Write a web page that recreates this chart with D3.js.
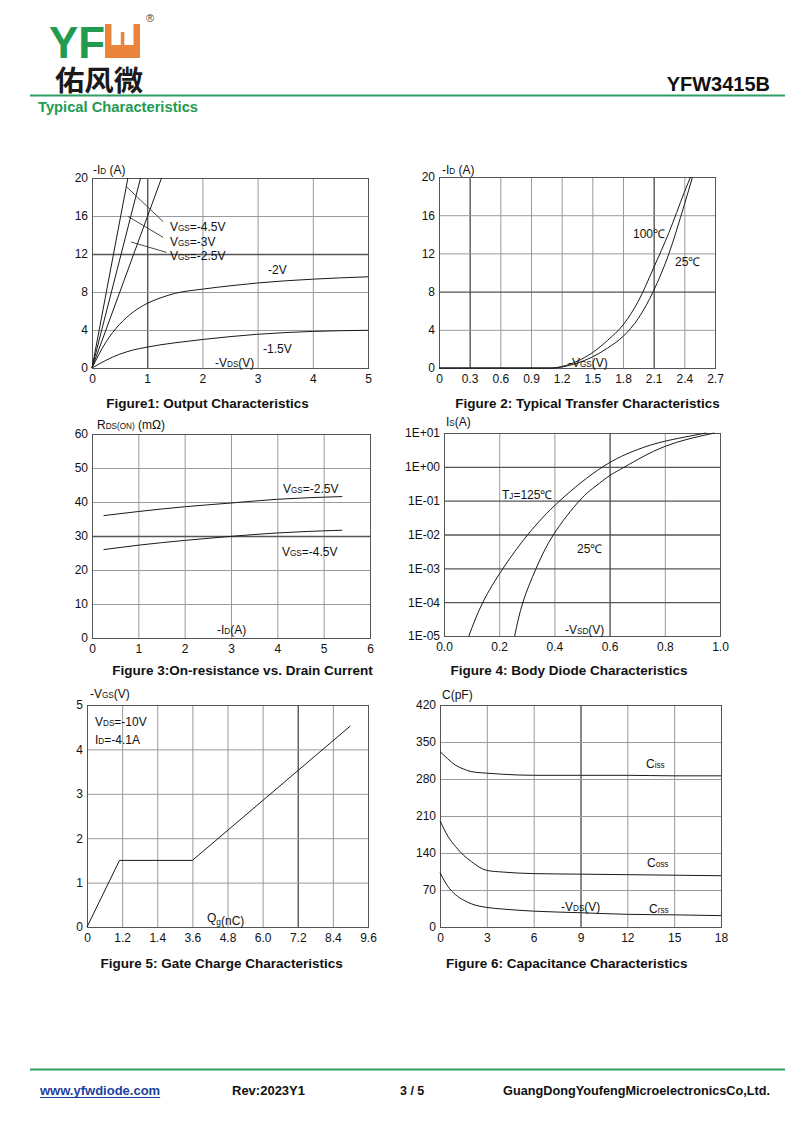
<!DOCTYPE html>
<html><head><meta charset="utf-8">
<script src="https://cdn.jsdelivr.net/npm/d3@7"></script>
<style>
body{margin:0;background:#fff}
svg{display:block;font-family:"Liberation Sans",Arial,Helvetica,sans-serif}
</style></head><body>
<svg id="c" width="800" height="1131"></svg>
<script>
// ---------------- DATA ----------------
// Figure 1: Output characteristics
const fig1_xTicks = [0, 1, 2, 3, 4, 5];
const fig1_yTicks = [0, 4, 8, 12, 16, 20];
const fig1_vds = [0, 0.25, 0.5, 0.75, 1, 1.25, 1.5, 2, 2.5, 3, 4, 5];
const fig1_id_vgs2 = [0, 2.7, 4.6, 5.9, 6.8, 7.4, 7.85, 8.3, 8.65, 8.95, 9.35, 9.6];
const fig1_id_vgs15 = [0, 0.8, 1.45, 1.9, 2.2, 2.45, 2.65, 3.0, 3.3, 3.55, 3.85, 3.97];
const fig1_lin_id = [0, 20];
const fig1_lin_vds45 = [0, 0.65];
const fig1_lin_vds3 = [0, 0.88];
const fig1_lin_vds25 = [0, 1.26];

// Figure 2: Transfer characteristics
const fig2_xTicks = [0, 0.3, 0.6, 0.9, 1.2, 1.5, 1.8, 2.1, 2.4, 2.7];
const fig2_xLabels = ["0", "0.3", "0.6", "0.9", "1.2", "1.5", "1.8", "2.1", "2.4", "2.7"];
const fig2_yTicks = [0, 4, 8, 12, 16, 20];
const fig2_vgs_100 = [0, 1.1, 1.2, 1.35, 1.5, 1.65, 1.8, 1.95, 2.1, 2.25, 2.4, 2.46];
const fig2_id_100 = [0, 0, 0.15, 0.7, 1.6, 2.9, 4.5, 7.0, 10.5, 14.2, 18.4, 20];
const fig2_vgs_25 = [0, 1.12, 1.2, 1.35, 1.5, 1.65, 1.8, 1.95, 2.1, 2.25, 2.4, 2.48];
const fig2_id_25 = [0, 0, 0.1, 0.5, 1.15, 2.1, 3.3, 5.2, 8.1, 12.0, 17.1, 20];

// Figure 3: On-resistance vs drain current
const fig3_xTicks = [0, 1, 2, 3, 4, 5, 6];
const fig3_yTicks = [0, 10, 20, 30, 40, 50, 60];
const fig3_id = [0.25, 1, 2, 3, 4, 5.4];
const fig3_r_vgs25 = [36, 37.2, 38.6, 39.7, 40.8, 41.6];
const fig3_r_vgs45 = [26, 27.3, 28.7, 29.9, 30.9, 31.7];

// Figure 4: Body diode characteristics
const fig4_xTicks = [0, 0.2, 0.4, 0.6, 0.8, 1.0];
const fig4_yTicks = [1e-5, 1e-4, 1e-3, 1e-2, 1e-1, 1, 10];
const fig4_yLabels = ["1E-05", "1E-04", "1E-03", "1E-02", "1E-01", "1E+00", "1E+01"];
const fig4_vsd_125 = [0.09, 0.141, 0.214, 0.304, 0.42, 0.575, 0.7, 0.8, 0.95];
const fig4_is_125 = [1e-5, 1e-4, 1e-3, 1e-2, 1e-1, 1, 3.2, 5.7, 10];
const fig4_vsd_25 = [0.256, 0.286, 0.334, 0.397, 0.491, 0.55, 0.6, 0.66, 0.8, 0.98];
const fig4_is_25 = [1e-5, 1e-4, 1e-3, 1e-2, 1e-1, 0.27, 0.55, 1.05, 4, 10];

// Figure 5: Gate charge
const fig5_xTicks = [0, 1.2, 2.4, 3.6, 4.8, 6.0, 7.2, 8.4, 9.6];
const fig5_xLabels = ["0", "1.2", "1.4", "3.6", "4.8", "6.0", "7.2", "8.4", "9.6"];
const fig5_yTicks = [0, 1, 2, 3, 4, 5];
const fig5_qg = [0, 1.11, 3.6, 9.0];
const fig5_vgs = [0, 1.5, 1.5, 4.53];

// Figure 6: Capacitance
const fig6_xTicks = [0, 3, 6, 9, 12, 15, 18];
const fig6_yTicks = [0, 70, 140, 210, 280, 350, 420];
const fig6_vds = [0, 0.5, 1, 1.5, 2, 3, 4, 6, 9, 12, 15, 18];
const fig6_ciss = [332, 318, 306, 299, 294, 291, 289, 287, 287, 287, 286, 286];
const fig6_coss = [201, 172, 152, 136, 124, 107, 104, 101, 100, 99, 98, 97];
const fig6_crss = [103, 77, 61, 51, 44, 37, 34, 30, 27, 24, 23, 21.5];

// ---------------- DRAWING ----------------
const svg = d3.select("#c");
const GREEN = "#229b50", LINE_GREEN = "#2f9f62", INK = "#111";

function zip(a, b) { return a.map((v, i) => [v, b[i]]); }

// text with _{sub} (small, same baseline) and _[sub] (small, lowered)
function rich(g, x, y, str, size, opts = {}) {
  const t = g.append("text").attr("x", x).attr("y", y)
    .attr("font-size", size).style("fill", opts.fill || INK)
    .attr("text-anchor", opts.anchor || "start");
  if (opts.bold) t.attr("font-weight", "bold");
  const re = /_\{([^}]*)\}|_\[([^\]]*)\]|([^_]+)/g;
  let m;
  while ((m = re.exec(str)) !== null) {
    if (m[1] !== undefined) t.append("tspan").attr("font-size", size * 0.68).text(m[1]);
    else if (m[2] !== undefined) {
      t.append("tspan").attr("font-size", size * 0.7).attr("dy", size * 0.25).text(m[2]);
      t.append("tspan").attr("dy", -size * 0.25).text("");
    } else t.append("tspan").text(m[3]);
  }
  return t;
}

function panel(o) {
  const g = svg.append("g");
  const w = o.x1 - o.x0, h = o.y1 - o.y0;
  const x = o.x.range([o.x0, o.x1]);
  const y = o.y.range([o.y1, o.y0]);
  const ax = g.append("g").attr("transform", `translate(0,${o.y1})`)
    .call(d3.axisBottom(x).tickValues(o.xt).tickFormat(o.xf).tickSize(-h).tickPadding(6.5));
  const ay = g.append("g").attr("transform", `translate(${o.x0},0)`)
    .call(d3.axisLeft(y).tickValues(o.yt).tickFormat(o.yf).tickSize(-w).tickPadding(o.ypad || 4));
  [ax, ay].forEach(a => {
    a.attr("font-family", null).attr("font-size", 12);
    a.select(".domain").remove();
    a.selectAll(".tick text").style("fill", INK);
  });
  ax.selectAll(".tick line").attr("stroke", d => (o.darkX || []).includes(d) ? "#555" : "#9a9a9a")
    .attr("stroke-width", d => (o.darkX || []).includes(d) ? 1.4 : 1);
  ay.selectAll(".tick line").attr("stroke", d => (o.darkY || []).includes(d) ? "#555" : "#9a9a9a")
    .attr("stroke-width", d => (o.darkY || []).includes(d) ? 1.4 : 1);
  g.append("rect").attr("x", o.x0 + 0.5).attr("y", o.y0 + 0.5).attr("width", w).attr("height", h)
    .attr("fill", "none").attr("stroke", "#555").attr("stroke-width", 1);
  return { g, x, y };
}

function curve(p, xs, ys, kind) {
  const c = kind === "lin" ? d3.curveLinear : (kind === "nat" ? d3.curveNatural : d3.curveMonotoneX);
  const line = d3.line().x(d => p.x(d[0])).y(d => p.y(d[1])).curve(c);
  p.g.append("path").datum(zip(xs, ys)).attr("d", line)
    .attr("fill", "none").attr("stroke", "#1a1a1a").attr("stroke-width", 1);
}

function title(x, y, str) {
  svg.append("text").attr("x", x).attr("y", y).attr("text-anchor", "middle")
    .attr("font-size", 13.5).attr("font-weight", "bold").style("fill", INK).text(str);
}

// ---- Header ----
svg.append("text").attr("x", 49).attr("y", 57.5).attr("font-size", 44).attr("font-weight", "bold")
  .style("fill", GREEN).attr("textLength", 56).attr("lengthAdjust", "spacingAndGlyphs").text("YF");
svg.append("rect").attr("x", 105).attr("y", 24).attr("width", 35).attr("height", 34).attr("fill", "#e9843a");
svg.append("rect").attr("x", 111.5).attr("y", 24).attr("width", 22).attr("height", 21).attr("fill", "#fff");
svg.append("rect").attr("x", 120.8).attr("y", 32).attr("width", 3.5).attr("height", 13).attr("fill", "#e9843a");
svg.append("text").attr("x", 146).attr("y", 22).attr("font-size", 11).style("fill", "#444").text("®");
svg.append("text").attr("x", 55).attr("y", 90.5).attr("font-size", 28).attr("font-weight", "bold")
  .attr("font-family", "'Noto Sans CJK SC', sans-serif").style("fill", "#1a1a1a")
  .attr("textLength", 88).attr("lengthAdjust", "spacingAndGlyphs").text("佑风微");
svg.append("text").attr("x", 770).attr("y", 91).attr("text-anchor", "end").attr("font-size", 20)
  .attr("font-weight", "bold").style("fill", INK).text("YFW3415B");
svg.append("line").attr("x1", 30).attr("x2", 785).attr("y1", 95.5).attr("y2", 95.5)
  .attr("stroke", LINE_GREEN).attr("stroke-width", 2);
svg.append("text").attr("x", 38).attr("y", 112).attr("font-size", 15).attr("font-weight", "bold")
  .style("fill", GREEN).attr("textLength", 160).attr("lengthAdjust", "spacingAndGlyphs")
  .text("Typical Characteristics");

// ---- Figure 1 ----
{
  const p = panel({ x0: 92, x1: 368, y0: 178, y1: 368,
    x: d3.scaleLinear().domain([0, 5]), y: d3.scaleLinear().domain([0, 20]),
    xt: fig1_xTicks, xf: d3.format("d"), yt: fig1_yTicks, yf: d3.format("d"),
    darkX: [1], darkY: [12] });
  curve(p, fig1_lin_vds45, fig1_lin_id, "lin");
  curve(p, fig1_lin_vds3, fig1_lin_id, "lin");
  curve(p, fig1_lin_vds25, fig1_lin_id, "lin");
  curve(p, fig1_vds, fig1_id_vgs2);
  curve(p, fig1_vds, fig1_id_vgs15);
  const lead = [[[0.62, 19.1], [1.29, 15.4]], [[0.65, 15.96], [1.29, 13.75]], [[0.71, 13.26], [1.35, 12.17]]];
  lead.forEach(l => p.g.append("line").attr("x1", p.x(l[0][0])).attr("y1", p.y(l[0][1]))
    .attr("x2", p.x(l[1][0])).attr("y2", p.y(l[1][1])).attr("stroke", "#333").attr("stroke-width", 0.9));
  rich(p.g, 170, 231, "V_{GS}=-4.5V", 12);
  rich(p.g, 170, 245.5, "V_{GS}=-3V", 12);
  rich(p.g, 170, 260, "V_{GS}=-2.5V", 12);
  rich(p.g, 268, 274, "-2V", 12);
  rich(p.g, 263, 352.5, "-1.5V", 12);
  rich(p.g, 215, 367, "-V_{DS}(V)", 12);
  rich(svg, 93, 174, "-I_{D} (A)", 12);
  title(207.5, 408, "Figure1: Output Characteristics");
}

// ---- Figure 2 ----
{
  const p = panel({ x0: 439, x1: 715, y0: 177, y1: 368,
    x: d3.scaleLinear().domain([0, 2.7]), y: d3.scaleLinear().domain([0, 20]),
    xt: fig2_xTicks, xf: (d, i) => fig2_xLabels[i], yt: fig2_yTicks, yf: d3.format("d"),
    darkX: [0.3, 2.1], darkY: [8] });
  curve(p, fig2_vgs_100, fig2_id_100);
  curve(p, fig2_vgs_25, fig2_id_25);
  rich(p.g, 633, 238, "100℃", 12);
  rich(p.g, 675, 266, "25℃", 12);
  rich(p.g, 568, 366.5, "-V_{GS}(V)", 12);
  rich(svg, 442, 174, "-I_{D} (A)", 12);
  title(587.5, 408, "Figure 2: Typical Transfer Characteristics");
}

// ---- Figure 3 ----
{
  const p = panel({ x0: 92, x1: 370, y0: 434, y1: 638,
    x: d3.scaleLinear().domain([0, 6]), y: d3.scaleLinear().domain([0, 60]),
    xt: fig3_xTicks, xf: d3.format("d"), yt: fig3_yTicks, yf: d3.format("d"),
    darkY: [30] });
  curve(p, fig3_id, fig3_r_vgs25);
  curve(p, fig3_id, fig3_r_vgs45);
  rich(p.g, 283, 492.5, "V_{GS}=-2.5V", 12);
  rich(p.g, 282, 556, "V_{GS}=-4.5V", 12);
  rich(p.g, 217, 634, "-I_{D}(A)", 12);
  rich(svg, 97, 429, "R_{DS(ON)} (mΩ)", 12);
  title(242.5, 675, "Figure 3:On-resistance vs. Drain Current");
}

// ---- Figure 4 ----
{
  const p = panel({ x0: 444, x1: 720, y0: 433, y1: 636,
    x: d3.scaleLinear().domain([0, 1]), y: d3.scaleLog().domain([1e-5, 10]),
    xt: fig4_xTicks, xf: d3.format(".1f"), yt: fig4_yTicks, yf: (d, i) => fig4_yLabels[i],
    darkX: [0.6], darkY: [1e-4, 1e-3, 1e-2, 1e-1, 1] });
  curve(p, fig4_vsd_125, fig4_is_125, "nat");
  curve(p, fig4_vsd_25, fig4_is_25, "nat");
  rich(p.g, 502, 499, "T_{J}=125℃", 12);
  rich(p.g, 577, 552.5, "25℃", 12);
  rich(p.g, 565, 634, "-V_{SD}(V)", 12);
  rich(svg, 446, 426, "I_{S}(A)", 12);
  title(569, 675, "Figure 4: Body Diode Characteristics");
}

// ---- Figure 5 ----
{
  const p = panel({ x0: 87, x1: 368, y0: 705, y1: 927,
    x: d3.scaleLinear().domain([0, 9.6]), y: d3.scaleLinear().domain([0, 5]),
    xt: fig5_xTicks, xf: (d, i) => fig5_xLabels[i], yt: fig5_yTicks, yf: d3.format("d"),
    darkX: [7.2] });
  curve(p, fig5_qg, fig5_vgs, "lin");
  rich(p.g, 95, 726, "V_{DS}=-10V", 12);
  rich(p.g, 95, 744, "I_{D}=-4.1A", 12);
  rich(p.g, 207, 922, "Q_[g](nC)", 12);
  rich(svg, 90, 697.5, "-V_{GS}(V)", 12);
  title(221.7, 967.5, "Figure 5: Gate Charge Characteristics");
}

// ---- Figure 6 ----
{
  const p = panel({ x0: 440, x1: 721, y0: 705, y1: 927,
    x: d3.scaleLinear().domain([0, 18]), y: d3.scaleLinear().domain([0, 420]),
    xt: fig6_xTicks, xf: d3.format("d"), yt: fig6_yTicks, yf: d3.format("d"),
    darkX: [9] });
  curve(p, fig6_vds, fig6_ciss);
  curve(p, fig6_vds, fig6_coss);
  curve(p, fig6_vds, fig6_crss);
  rich(p.g, 646, 767.5, "C_{iss}", 12);
  rich(p.g, 647, 867, "C_{oss}", 12);
  rich(p.g, 649, 912.5, "C_{rss}", 12);
  rich(p.g, 561, 911, "-V_{DS}(V)", 12);
  rich(svg, 442, 699, "C(pF)", 12);
  title(566.7, 967.5, "Figure 6: Capacitance Characteristics");
}

// ---- Footer ----
svg.append("line").attr("x1", 30).attr("x2", 785).attr("y1", 1069.5).attr("y2", 1069.5)
  .attr("stroke", LINE_GREEN).attr("stroke-width", 2);
const web = svg.append("text").attr("x", 40).attr("y", 1095).attr("font-size", 13).attr("font-weight", "bold")
  .style("fill", "#1d3f9e").text("www.yfwdiode.com");
const webW = web.node().getComputedTextLength();
svg.append("line").attr("x1", 40).attr("x2", 40 + webW).attr("y1", 1097.5).attr("y2", 1097.5)
  .attr("stroke", "#1d3f9e").attr("stroke-width", 1);
svg.append("text").attr("x", 232).attr("y", 1095).attr("font-size", 13).attr("font-weight", "bold")
  .style("fill", INK).text("Rev:2023Y1");
svg.append("text").attr("x", 400).attr("y", 1095).attr("font-size", 12.5).attr("font-weight", "bold")
  .style("fill", INK).text("3 / 5");
svg.append("text").attr("x", 770).attr("y", 1095).attr("text-anchor", "end").attr("font-size", 12.7)
  .attr("font-weight", "bold").style("fill", INK).text("GuangDongYoufengMicroelectronicsCo,Ltd.");
</script>
</body></html>
